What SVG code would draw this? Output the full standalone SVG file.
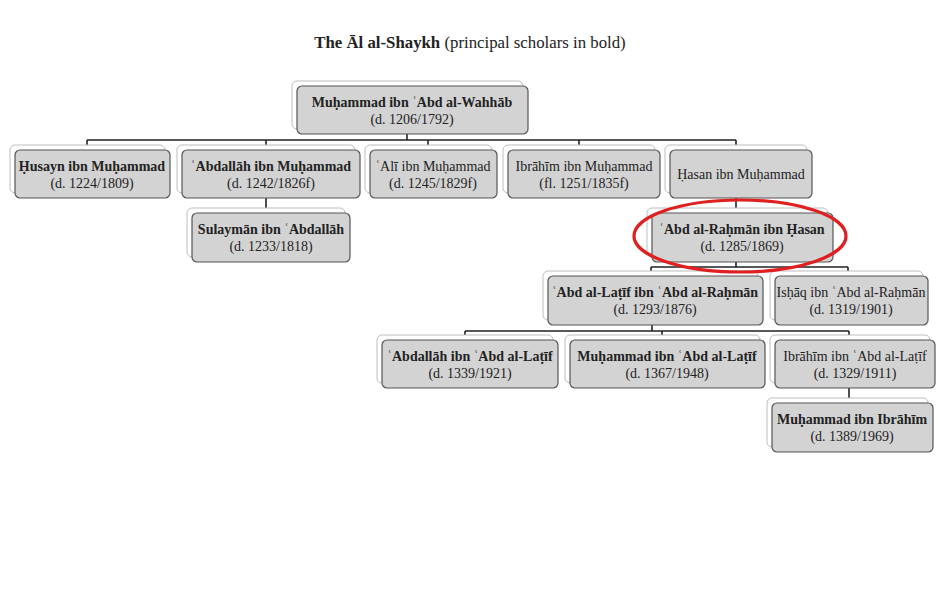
<svg xmlns="http://www.w3.org/2000/svg" width="938" height="597" viewBox="0 0 938 597">
<style>
.bg{fill:#ffffff;stroke:#bdbdbd;stroke-width:1}
.fg{fill:#d3d3d3;stroke:#555555;stroke-width:1.2}
text{font-family:"Liberation Serif","Times New Roman",serif;font-size:14px;fill:#222;text-anchor:middle}
.b{font-weight:bold}
.c{stroke:#222;stroke-width:1.6;fill:none}
</style>
<rect width="938" height="597" fill="#fff"/>
<text x="470" y="48" style="font-size:16.8px"><tspan font-weight="bold">The Āl al-Shaykh</tspan> (principal scholars in bold)</text>
<g id="connectors">
<path class="c" d="M407 134V140M87 140H736M87 140V145M266 140V145M428 140V145M579 140V145M736 140V145"/>
<path class="c" d="M266 198V208M736 198V208"/>
<path class="c" d="M736 262V267M651 267H848M651 267V271M848 267V271"/>
<path class="c" d="M652 325V331M465 331H849M465 331V335M662 331V335M849 331V335"/>
<path class="c" d="M849 388V398"/>
</g>
<g id="n1"><rect class="bg" x="292" y="81" width="231" height="48" rx="5"/><rect class="fg" x="297" y="86" width="231" height="48" rx="5"/><text x="412" y="107" class="b">Muḥammad ibn ʿAbd al-Wahhāb</text><text x="412" y="124">(d. 1206/1792)</text></g>
<g id="n2"><rect class="bg" x="10" y="145" width="155" height="48" rx="5"/><rect class="fg" x="15" y="150" width="155" height="48" rx="5"/><text x="92" y="171" class="b">Ḥusayn ibn Muḥammad</text><text x="92" y="188">(d. 1224/1809)</text></g>
<g id="n3"><rect class="bg" x="177" y="145" width="178" height="48" rx="5"/><rect class="fg" x="182" y="150" width="178" height="48" rx="5"/><text x="271" y="171" class="b">ʿAbdallāh ibn Muḥammad</text><text x="271" y="188">(d. 1242/1826f)</text></g>
<g id="n4"><rect class="bg" x="365" y="145" width="127" height="48" rx="5"/><rect class="fg" x="370" y="150" width="127" height="48" rx="5"/><text x="433" y="171">ʿAlī ibn Muḥammad</text><text x="433" y="188">(d. 1245/1829f)</text></g>
<g id="n5"><rect class="bg" x="503" y="145" width="152" height="48" rx="5"/><rect class="fg" x="508" y="150" width="152" height="48" rx="5"/><text x="584" y="171">Ibrāhīm ibn Muḥammad</text><text x="584" y="188">(fl. 1251/1835f)</text></g>
<g id="n6"><rect class="bg" x="665" y="145" width="142" height="48" rx="5"/><rect class="fg" x="670" y="150" width="142" height="48" rx="5"/><text x="741" y="179">Ḥasan ibn Muḥammad</text></g>
<g id="n7"><rect class="bg" x="187" y="208" width="158" height="49" rx="5"/><rect class="fg" x="192" y="213" width="158" height="49" rx="5"/><text x="271" y="234" class="b">Sulaymān ibn ʿAbdallāh</text><text x="271" y="251">(d. 1233/1818)</text></g>
<g id="n8"><rect class="bg" x="647" y="208" width="181" height="49" rx="5"/><rect class="fg" x="652" y="213" width="181" height="49" rx="5"/><text x="742" y="234" class="b">ʿAbd al-Raḥmān ibn Ḥasan</text><text x="742" y="251">(d. 1285/1869)</text></g>
<g id="n9"><rect class="bg" x="543" y="271" width="215" height="49" rx="5"/><rect class="fg" x="548" y="276" width="215" height="49" rx="5"/><text x="655" y="297" class="b">ʿAbd al-Laṭīf ibn ʿAbd al-Raḥmān</text><text x="655" y="314">(d. 1293/1876)</text></g>
<g id="n10"><rect class="bg" x="770" y="271" width="153" height="49" rx="5"/><rect class="fg" x="775" y="276" width="153" height="49" rx="5"/><text x="851" y="297">Isḥāq ibn ʿAbd al-Raḥmān</text><text x="851" y="314">(d. 1319/1901)</text></g>
<g id="n11"><rect class="bg" x="377" y="335" width="176" height="48" rx="5"/><rect class="fg" x="382" y="340" width="176" height="48" rx="5"/><text x="470" y="361" class="b">ʿAbdallāh ibn ʿAbd al-Laṭīf</text><text x="470" y="378">(d. 1339/1921)</text></g>
<g id="n12"><rect class="bg" x="565" y="335" width="195" height="48" rx="5"/><rect class="fg" x="570" y="340" width="195" height="48" rx="5"/><text x="667" y="361" class="b">Muḥammad ibn ʿAbd al-Laṭīf</text><text x="667" y="378">(d. 1367/1948)</text></g>
<g id="n13"><rect class="bg" x="770" y="335" width="160" height="48" rx="5"/><rect class="fg" x="775" y="340" width="160" height="48" rx="5"/><text x="855" y="361">Ibrāhīm ibn ʿAbd al-Laṭīf</text><text x="855" y="378">(d. 1329/1911)</text></g>
<g id="n14"><rect class="bg" x="767" y="398" width="161" height="49" rx="5"/><rect class="fg" x="772" y="403" width="161" height="49" rx="5"/><text x="852" y="424" class="b">Muḥammad ibn Ibrāhīm</text><text x="852" y="441">(d. 1389/1969)</text></g>
<ellipse cx="740" cy="236" rx="106" ry="36" fill="none" stroke="#e02020" stroke-width="3.2"/>
</svg>
